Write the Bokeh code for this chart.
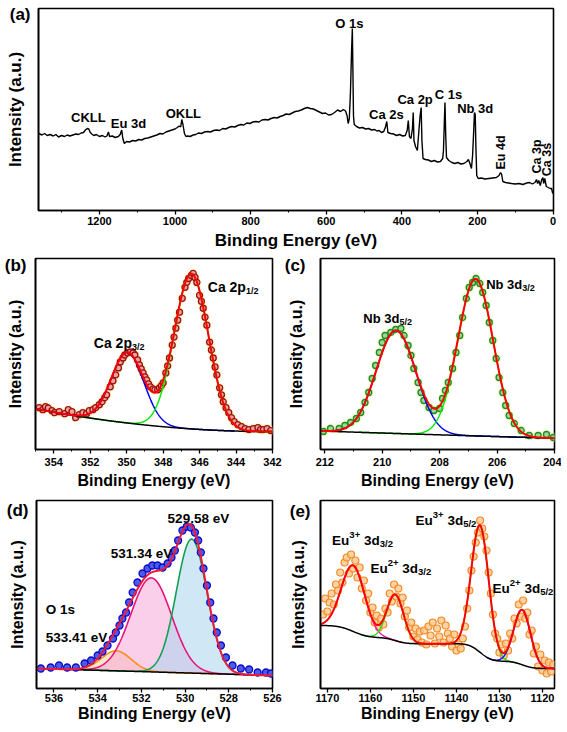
import numpy as np
from bokeh.plotting import figure
from bokeh.layouts import column, row
from bokeh.models import Range1d, SingleIntervalTicker, FixedTicker, Label
from bokeh.embed import file_html
from bokeh.resources import INLINE

FONT = "Liberation Sans"

# ---------------- (a) survey spectrum ----------------
survey_energy = [1360, 1352, 1345, 1338, 1330, 1322, 1315, 1308, 1300, 1292, 1285, 1278, 1270, 1262, 1255,
                 1248, 1242, 1237, 1232, 1228, 1224, 1220, 1215, 1208, 1200, 1192, 1185, 1180, 1176, 1173,
                 1166, 1158, 1150, 1145, 1141, 1138, 1134, 1128, 1120, 1112, 1104, 1096, 1088, 1080, 1072,
                 1064, 1056, 1048, 1040, 1032, 1024, 1016, 1008, 1000, 994, 989, 985, 982, 979, 975,
                 971, 966, 960, 952, 945, 938, 930, 922, 914, 906, 898, 890, 882, 874, 866,
                 858, 850, 842, 834, 826, 818, 810, 802, 794, 786, 778, 770, 762, 754, 746,
                 738, 730, 722, 714, 706, 698, 690, 682, 674, 666, 658, 650, 642, 634, 626,
                 618, 610, 602, 594, 586, 578, 570, 562, 555, 549, 545, 542, 539, 536, 533,
                 531, 529.5, 528, 526, 520, 512, 504, 496, 488, 480, 472, 466, 460, 454, 448,
                 443, 440, 437, 430, 422, 414, 406, 398, 391, 386, 383, 380, 376, 372, 370,
                 368, 364, 359, 356, 352, 349, 347, 344, 338, 330, 322, 314, 306, 298, 292,
                 290, 288, 286, 284, 282, 276, 268, 260, 252, 244, 236, 228, 224, 220, 216,
                 213, 210, 208, 206, 204, 202, 198, 190, 180, 170, 160, 150, 143, 139, 136,
                 133, 126, 118, 110, 100, 90, 80, 70, 62, 55, 48, 44, 41, 38, 34,
                 30, 27, 25, 22, 18, 13, 8, 4, 1]
survey_counts = [77, 75.5, 77, 75, 76, 74.5, 76, 73.5, 75, 74, 75.5, 74.5, 75.5, 76.5, 76,
                 77.5, 78, 80.5, 82, 81.5, 78, 76.5, 75, 76, 74, 75, 73.5, 74.5, 78.5, 74,
                 74.5, 73, 74, 76, 80.5, 72, 67, 69, 68.5, 70, 69.5, 71, 70.5, 72, 72.5,
                 73.5, 74.5, 75.5, 77, 76.5, 78.5, 79.5, 80.5, 81.5, 83, 84.5, 83.5, 91, 86, 77,
                 74, 74.5, 74, 75.5, 76, 77.5, 77, 78.5, 79, 78.5, 80, 80.5, 80, 82, 81.5,
                 83, 84, 83.5, 85, 86, 85.5, 87.5, 87, 88.5, 89, 88.5, 90.5, 91, 90.5, 92,
                 93, 92.5, 94, 95, 96.5, 96, 97.5, 99, 99.5, 100.5, 102, 103, 102, 101.5, 100,
                 98.5, 97, 97.5, 95.5, 96, 98, 100.5, 99, 101, 99.5, 95, 87, 92, 118, 160,
                 182, 140, 95, 86, 84, 82.5, 83, 81.5, 82, 80.5, 81, 79.5, 80, 78, 79,
                 84, 89, 78, 77, 76.5, 75, 76, 74.5, 75, 80, 90, 74, 72, 82, 98,
                 70, 64, 60, 75, 94, 103, 70, 52, 51, 50.5, 49, 50, 48.5, 49, 52,
                 60, 85, 108, 75, 53, 50, 48, 47, 48, 46.5, 47, 49, 51, 47, 42,
                 55, 80, 98, 96, 60, 35, 32, 32.5, 31.5, 32, 32.5, 33, 35, 38, 36,
                 29, 28, 27.5, 27, 26.5, 27, 26, 27.5, 28, 26.5, 28, 31, 27, 30, 25,
                 31, 33, 27, 32, 24, 23, 22, 22, 17]
survey_labels = ["CKLL", "Eu 3d", "OKLL", "O 1s", "Ca 2s", "Ca 2p", "C 1s", "Nb 3d"]
survey_label_x = [1229, 1123, 978, 539, 441, 365, 277, 206]
survey_label_y = [93, 87, 97, 187, 96, 111, 116, 102]
survey_vlabels = ["Eu 4d", "Ca 3p", "Ca 3s"]
survey_vlabel_x = [137, 42, 16]
survey_vlabel_y = [58, 54, 51]

# ---------------- (b) Ca 2p ----------------
ca_energy = [354.8, 354.6, 354.45, 354.3, 354.1, 353.95, 353.7, 353.4, 353.2, 353.0, 352.8, 352.6, 352.4,
             352.2, 352.05, 351.85, 351.7, 351.5, 351.35, 351.2, 351.1, 350.9, 350.75, 350.6, 350.45,
             350.35, 350.2, 350.1, 349.95, 349.8, 349.65, 349.55, 349.4, 349.3, 349.2, 349.1, 349.0,
             348.9, 348.8, 348.7, 348.55, 348.45, 348.3, 348.2, 348.1, 348.0, 347.85, 347.75, 347.65,
             347.5, 347.4, 347.3, 347.2, 347.1, 346.95, 346.8, 346.7, 346.6, 346.45, 346.35, 346.25,
             346.15, 346.0, 345.9, 345.8, 345.7, 345.6, 345.45, 345.35, 345.25, 345.15, 345.05, 344.9,
             344.8, 344.7, 344.55, 344.4, 344.25, 344.1, 343.9, 343.7, 343.5, 343.3, 343.05, 342.8,
             342.65, 342.5, 342.3, 342.1]
ca_counts = [42, 40, 43, 41.7, 39, 37, 38, 36, 40, 38, 32, 35, 37,
             36, 39, 40, 42, 45, 48, 52, 55, 63, 69, 75, 82,
             88, 92, 95, 97, 98, 97, 95, 90, 85, 81, 77, 73,
             70, 66, 63, 61, 60, 60, 62, 64, 67, 77, 84, 92,
             105, 113, 122, 130, 138, 152, 163, 168, 172, 175, 177, 173,
             168, 155, 149, 142, 133, 125, 108, 100, 92, 83, 75, 62,
             55, 48, 42, 37, 32, 28, 25, 23, 21, 20, 21, 22,
             20, 20, 21, 19]
ca_peak_center = [349.95, 346.45]
ca_peak_height = [71, 156]
ca_peak_fwhm = [2.1, 2.22]
ca_bg_poly = [18, 0, 0.136]

# ---------------- (c) Nb 3d ----------------
nb_energy = [212.05, 211.8, 211.5, 211.3, 211.1, 210.9, 210.75, 210.6, 210.47, 210.35, 210.23, 210.1,
             210.0, 209.9, 209.7, 209.53, 209.35, 209.24, 209.1, 209.0, 208.9, 208.75, 208.65, 208.55,
             208.37, 208.2, 208.0, 207.9, 207.8, 207.7, 207.55, 207.43, 207.3, 207.2, 207.07, 206.97,
             206.85, 206.73, 206.6, 206.5, 206.38, 206.27, 206.15, 206.03, 205.93, 205.8, 205.7, 205.58,
             205.4, 205.16, 204.88, 204.57, 204.28, 204.04]
nb_counts = [18, 21, 21, 24, 27, 31, 37, 47, 57, 71, 84, 97,
             107, 114, 117, 120, 121, 114, 104, 94, 81, 67, 57, 49,
             42, 39, 41, 51, 59, 67, 81, 97, 114, 132, 151, 162,
             167, 171, 166, 157, 144, 127, 109, 91, 72, 57, 44, 34,
             26, 19, 14, 14, 15, 12]
nb_peak_center = [209.52, 206.75]
nb_peak_height = [103, 157]
nb_peak_fwhm = [1.62, 1.45]
nb_bg_poly = [11.3, 0.8, 0.01]

# ---------------- (d) O 1s ----------------
o_energy = [536.6, 536.15, 535.77, 535.4, 535.0, 534.6, 534.3, 534.0, 533.78, 533.55, 533.3, 533.17,
            533.0, 532.87, 532.7, 532.56, 532.4, 532.18, 531.95, 531.72, 531.5, 531.26, 531.03, 530.8,
            530.62, 530.47, 530.32, 530.12, 529.92, 529.74, 529.55, 529.4, 529.28, 529.16, 529.0, 528.85,
            528.7, 528.55, 528.36, 528.13, 527.83, 527.45, 527.07, 526.68, 526.3, 526.07]
o_counts = [20, 21, 23, 21, 21, 25, 28, 33, 37, 43, 50, 56,
            63, 70, 76, 86, 96, 106, 115, 120, 123, 123, 121, 125,
            131, 138, 148, 158, 162, 161, 156, 148, 136, 120, 103, 86,
            70, 56, 43, 31, 23, 20, 19, 16, 16, 15]
o_peak_center = [533.15, 531.55, 529.7]
o_peak_height = [20, 94, 134]
o_peak_fwhm = [1.6, 2.2, 1.65]
o_bg_poly = [13, 0.65, 0]
o_labels = ["529.58 eV", "531.34 eV", "O 1s", "533.41 eV"]
o_label_x = [530.8, 533.4, 536.38, 536.38]
o_label_y = [170, 135, 79, 51]

# ---------------- (e) Eu 3d ----------------
eu_energy = [1171, 1170.5, 1170, 1169.5, 1169, 1168.5, 1168, 1167.5, 1167, 1166.5, 1166, 1165.5,
             1165, 1164.5, 1164, 1163.5, 1163, 1162.5, 1162, 1161.5, 1161, 1160.5, 1160, 1159.5,
             1159, 1158.5, 1158, 1157.5, 1157, 1156.5, 1156, 1155.5, 1155, 1154.5, 1154, 1153.5,
             1153, 1152.5, 1152, 1151.5, 1151, 1150.5, 1150, 1149.5, 1149, 1148.5, 1148, 1147.5,
             1147, 1146.5, 1146, 1145.5, 1145, 1144.5, 1144, 1143.5, 1143, 1142.5, 1142, 1141.5,
             1141, 1140.5, 1140, 1139.5, 1139, 1138.5, 1138, 1137.5, 1137, 1136.5, 1136, 1135.5,
             1135, 1134.5, 1134, 1133.5, 1133, 1132.5, 1132, 1131.5, 1131, 1130.5, 1130, 1129.5,
             1129, 1128.5, 1128, 1127.5, 1127, 1126.5, 1126, 1125.5, 1125, 1124.5, 1124, 1123.5,
             1123, 1122.5, 1122, 1121.5, 1121, 1120.5, 1120, 1119.5, 1119, 1118.5, 1118, 1117.5]
eu_counts = [74, 90, 77, 86, 95, 84, 104, 98, 116, 106, 126, 131,
             115, 134, 120, 128, 111, 121, 100, 108, 88, 95, 76, 81,
             66, 73, 61, 70, 64, 80, 76, 95, 87, 104, 92, 100,
             85, 91, 72, 78, 61, 66, 52, 60, 49, 57, 46, 58,
             44, 62, 53, 66, 45, 60, 52, 68, 46, 63, 55, 50,
             42, 54, 38, 44, 40, 50, 62, 80, 98, 118, 132, 146,
             156, 168, 160, 152, 138, 116, 95, 74, 55, 50, 36, 44,
             33, 45, 38, 55, 50, 70, 65, 84, 72, 88, 70, 76,
             54, 58, 35, 42, 22, 34, 18, 28, 15, 26, 17, 24]
eu_peak_center = [1164.0, 1154.2, 1134.5, 1124.7]
eu_peak_height = [66, 46, 127, 55]
eu_peak_fwhm = [6.4, 4.6, 4.8, 4.6]
eu_bg_low = 20
eu_bg_high = 63


def gauss(E, c, h, w):
    return h * np.exp(-4 * np.log(2) * ((E - c) / w) ** 2)


def fit_model(e_lo, e_hi, centers, heights, fwhms, poly=(0, 0, 0), shirley=(0, 0)):
    E = np.linspace(e_lo, e_hi, 700)
    comps = [gauss(E, c, h, w) for c, h, w in zip(centers, heights, fwhms)]
    total = np.sum(comps, axis=0)
    d = E - e_lo
    bg = poly[0] + poly[1] * d + poly[2] * d ** 2
    low, high = shirley
    if high != low:
        cum = np.cumsum(total)
        bg = bg + low + (high - low) * cum / cum[-1]
    return E, bg, comps, bg + total


def make_fig(width, height, xr, yr, borders, interval, letter, letter_y, letter_standoff,
             ylab_standoff, xlab_size="16px", ylab_size="16px", tick_standoff=2, xlab_standoff=3):
    lb, rb, tb, bb = borders
    p = figure(width=width, height=height, x_range=Range1d(xr[0], xr[1]), y_range=Range1d(yr[0], yr[1]),
               output_backend="svg", toolbar_location=None,
               min_border_left=lb, min_border_right=rb, min_border_top=tb, min_border_bottom=bb,
               background_fill_color="white", border_fill_color="white")
    p.xgrid.visible = False
    p.ygrid.visible = False
    p.outline_line_color = "black"
    p.outline_line_width = 1.6
    p.outline_line_alpha = 1.0
    xa = p.xaxis[0]
    xa.ticker = SingleIntervalTicker(interval=interval, num_minor_ticks=2)
    xa.axis_label = "Binding Energy (eV)"
    xa.axis_label_text_font = FONT
    xa.axis_label_text_font_style = "bold"
    xa.axis_label_text_font_size = xlab_size
    xa.axis_label_text_color = "black"
    xa.axis_label_standoff = xlab_standoff
    xa.major_label_text_font = FONT
    xa.major_label_text_font_style = "bold"
    xa.major_label_text_font_size = "11px"
    xa.major_label_text_color = "black"
    xa.major_label_standoff = tick_standoff
    xa.axis_line_width = 1.6
    xa.major_tick_in = 0
    xa.major_tick_out = 4
    xa.major_tick_line_width = 1.3
    xa.minor_tick_in = 0
    xa.minor_tick_out = 2
    xa.minor_tick_line_width = 1
    # y axis: no ticks; the panel letter is carried as the single (horizontal) tick label
    ya = p.yaxis[0]
    ya.ticker = FixedTicker(ticks=[letter_y])
    ya.major_label_overrides = {letter_y: letter}
    ya.major_label_text_font = FONT
    ya.major_label_text_font_style = "bold"
    ya.major_label_text_font_size = "17px"
    ya.major_label_text_color = "black"
    ya.major_label_standoff = letter_standoff
    ya.major_tick_in = 0
    ya.major_tick_out = 0
    ya.major_tick_line_color = None
    ya.minor_tick_in = 0
    ya.minor_tick_out = 0
    ya.axis_label = "Intensity (a.u.)"
    ya.axis_label_text_font = FONT
    ya.axis_label_text_font_style = "bold"
    ya.axis_label_text_font_size = ylab_size
    ya.axis_label_text_color = "black"
    ya.axis_label_standoff = ylab_standoff
    ya.axis_line_width = 1.6
    return p


def lab(p, x, y, text, size, align="center", baseline="middle", angle=0.0):
    p.add_layout(Label(x=x, y=y, text=text, text_font=FONT, text_font_style="bold",
                       text_font_size=f"{size}px", text_color="black", text_align=align,
                       text_baseline=baseline, angle=angle))


CW = {'E': .667, 'u': .611, ' ': .278, '3': .556, 'd': .611, 'C': .722, 'a': .556, '2': .556, 'p': .611,
      'N': .722, 'b': .611, '/': .278, '+': .584, '1': .556, '5': .556}


def rich(p, x, y, parts, size, small):
    off = 0.0
    for txt, kind in parts:
        fs = size if kind == "n" else small
        lead = len(txt) - len(txt.lstrip(" "))
        off += lead * CW[' '] * fs
        txt = txt.lstrip(" ")
        yo = 0.0 if kind == "n" else (0.42 * size if kind == "sup" else -0.25 * size)
        p.add_layout(Label(x=x, y=y, x_offset=off, y_offset=yo, text=txt, text_font=FONT,
                           text_font_style="bold", text_font_size=f"{fs}px", text_color="black",
                           text_align="left", text_baseline="alphabetic"))
        off += sum(CW.get(ch, 0.56) for ch in txt) * fs


def comp_lines(p, E, bg, comps, centers, fwhms, colors, k, width=1.5):
    for comp, c, w, col in zip(comps, centers, fwhms, colors):
        m = np.abs(E - c) < k * w
        p.line(E[m], (bg + comp)[m], line_color=col, line_width=width)


# ---------------- panel (a) ----------------
pa = make_fig(561, 252, (1361, -1), (0, 202), (38, 8, 8, 42), 200, "(a)", 196, 8, -18,
              xlab_size="17px", ylab_size="17px", tick_standoff=2, xlab_standoff=3)
pa.line(survey_energy, survey_counts, line_color="black", line_width=1.4)
for t, x, y in zip(survey_labels, survey_label_x, survey_label_y):
    lab(pa, x, y, t, 13)
for t, x, y in zip(survey_vlabels, survey_vlabel_x, survey_vlabel_y):
    lab(pa, x, y, t, 12.5, angle=np.pi / 2)

# ---------------- panel (b) ----------------
pb = make_fig(284, 242, (355, 342), (0, 192), (35, 12, 6, 45), 2, "(b)", 185, 9, -22,
              tick_standoff=4, xlab_standoff=3)
Eb, bgb, cb, envb = fit_model(342, 355, ca_peak_center, ca_peak_height, ca_peak_fwhm, poly=ca_bg_poly)
pb.scatter(ca_energy, ca_counts, size=10, fill_color="#FFF2A0", line_color=None, fill_alpha=0.45)
pb.scatter(ca_energy, ca_counts, size=6, fill_color="#E9A3A0", line_color="#9E1010", line_width=1.3)
comp_lines(pb, Eb, bgb, cb, ca_peak_center, ca_peak_fwhm, ["#0000EE", "#00EE00"], 2.8)
pb.line(Eb, bgb, line_color="black", line_width=1.5)
pb.line(Eb, envb, line_color="#FF0000", line_width=2)
rich(pb, 351.8, 107, [("Ca 2p", "n"), ("3/2", "sub")], 14, 9)
rich(pb, 345.55, 163, [("Ca 2p", "n"), ("1/2", "sub")], 14, 9)

# ---------------- panel (c) ----------------
pc = make_fig(277, 242, (212.15, 204), (0, 191), (36, 7, 6, 45), 2, "(c)", 184, 15, -23,
              tick_standoff=4, xlab_standoff=3)
Ec, bgc, cc, envc = fit_model(204, 212.15, nb_peak_center, nb_peak_height, nb_peak_fwhm, poly=nb_bg_poly)
pc.scatter(nb_energy, nb_counts, size=10, fill_color="#E8F5A0", line_color=None, fill_alpha=0.5)
pc.scatter(nb_energy, nb_counts, size=6, fill_color="#9BD99B", line_color="#1E8C1E", line_width=1.3)
comp_lines(pc, Ec, bgc, cc, nb_peak_center, nb_peak_fwhm, ["#0000EE", "#00EE00"], 2.8)
pc.line(Ec, bgc, line_color="black", line_width=1.5)
pc.line(Ec, envc, line_color="#FF0000", line_width=2)
rich(pc, 210.66, 131, [("Nb 3d", "n"), ("5/2", "sub")], 13, 9)
rich(pc, 206.38, 165, [("Nb 3d", "n"), ("3/2", "sub")], 13, 9)

# ---------------- panel (d) ----------------
pd_ = make_fig(284, 236, (536.8, 526), (0, 188), (36, 12, 6, 42), 2, "(d)", 178, 8, -22,
               tick_standoff=1, xlab_standoff=0)
Ed, bgd, cd, envd = fit_model(526, 536.8, o_peak_center, o_peak_height, o_peak_fwhm, poly=o_bg_poly)
for comp, fc in zip(cd, ["#FBD3A0", "#F6A8D8", "#A9D6EE"]):
    pd_.varea(x=Ed, y1=bgd, y2=bgd + comp, fill_color=fc, fill_alpha=0.55)
comp_lines(pd_, Ed, bgd, cd, o_peak_center, o_peak_fwhm, ["#FF8C1A", "#E8137A", "#12A050"], 3.0, 1.6)
pd_.line(Ed, bgd, line_color="black", line_width=1.5)
pd_.scatter(o_energy, o_counts, size=7, fill_color="#4A5BE8", line_color="#0A0AC8", line_width=1.3)
pd_.line(Ed, envd, line_color="#F21A3C", line_width=2)
for t, x, y in zip(o_labels, o_label_x, o_label_y):
    lab(pd_, x, y, t, 13.5, align="left", baseline="alphabetic")

# ---------------- panel (e) ----------------
pe = make_fig(277, 236, (1171.6, 1117.2), (0, 188), (36, 7, 6, 42), 10, "(e)", 177, 10, -20,
              tick_standoff=1, xlab_standoff=0)
Ee, bge, ce, enve = fit_model(1117.2, 1171.6, eu_peak_center, eu_peak_height, eu_peak_fwhm,
                              shirley=(eu_bg_low, eu_bg_high))
pe.scatter(eu_energy, eu_counts, size=7, fill_color="#FCC88A", line_color="#F28A2A", line_width=1.2,
           fill_alpha=0.8)
comp_lines(pe, Ee, bge, ce, eu_peak_center, eu_peak_fwhm, ["#F0169B", "#22DD22", "#22DD22", "#1010FF"], 1.8)
pe.line(Ee, bge, line_color="black", line_width=1.5)
pe.line(Ee, enve, line_color="#FF0000", line_width=2)
rich(pe, 1168.9, 148, [("Eu", "n"), ("3+", "sup"), (" 3d", "n"), ("3/2", "sub")], 13.5, 9.5)
rich(pe, 1160.0, 120, [("Eu", "n"), ("2+", "sup"), (" 3d", "n"), ("3/2", "sub")], 13.5, 9.5)
rich(pe, 1149.5, 168, [("Eu", "n"), ("3+", "sup"), (" 3d", "n"), ("5/2", "sub")], 13.5, 9.5)
rich(pe, 1131.6, 100, [("Eu", "n"), ("2+", "sup"), (" 3d", "n"), ("5/2", "sub")], 13.5, 9.5)

layout = column(pa, row(pb, pc), row(pd_, pe))
open("out.html", "w").write(file_html(layout, INLINE))
